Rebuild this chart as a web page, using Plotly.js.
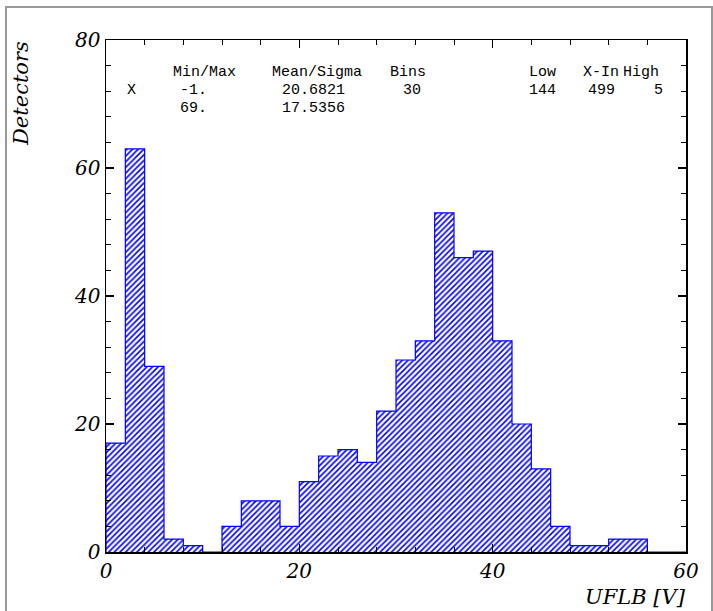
<!DOCTYPE html>
<html>
<head>
<meta charset="utf-8">
<script src="https://cdn.plot.ly/plotly-3.0.1.min.js"></script>
<style>html,body{margin:0;padding:0;background:#fff;}#chart{width:713px;height:611px;}</style>
</head>
<body>
<div id="chart"></div>
<script>
// ---- data ----
const binCenters = [1,3,5,7,9,11,13,15,17,19,21,23,25,27,29,31,33,35,37,39,41,43,45,47,49,51,53,55,57,59];
const counts     = [17,63,29,2,1,0,4,8,8,4,11,15,16,14,22,30,33,53,46,47,33,20,13,4,1,1,2,2,0,0];
const binWidth = 2;
const statHeaders = ["Min/Max", "Mean/Sigma", "Bins", "Low", "X-In", "High"];
const statRow1 = ["X", "-1.", "20.6821", "30", "144", "499", "5"];
const statRow2 = ["69.", "17.5356"];
const xTitle = "UFLB [V]";
const yTitle = "Detectors";

// ---- geometry helpers (pixel -> paper) ----
const W = 713, H = 611, ML = 106, MR = 27, MT = 40, MB = 59;
const PW = W - ML - MR, PH = H - MT - MB;
const px = x => (x - ML) / PW;
const py = y => (H - MB - y) / PH;

// step outline built from the histogram arrays
const stepX = [binCenters[0] - binWidth/2], stepY = [0];
binCenters.forEach((c, i) => { stepX.push(c - binWidth/2); stepY.push(counts[i]); });
stepX.push(binCenters[binCenters.length-1] + binWidth/2); stepY.push(counts[counts.length-1]);

const blue = '#0000ff';
const traces = [
  {type:'bar', x: binCenters, y: counts, width: binWidth,
   marker:{color:'rgba(0,0,0,0)', line:{width:0},
           pattern:{shape:'/', fgcolor: blue, bgcolor:'#ffffff', size:4, solidity:0.4, fillmode:'replace'}},
   hoverinfo:'skip'},
  {type:'scatter', mode:'lines', x: stepX, y: stepY, line:{shape:'hv', color: blue, width:1.2}, hoverinfo:'skip'}
];

const mono = {family:'Liberation Mono, monospace', size:15, color:'#000'};
const ann = [];
function txt(t, xl, yc){ ann.push({text:t, xref:'paper', yref:'paper', x:px(xl), y:py(yc), xanchor:'left', yanchor:'middle', showarrow:false, font:mono}); }
const hdrX = [171, 270, 388, 527, 581, 621];
statHeaders.forEach((t,i)=>txt(t, hdrX[i], 72));
const r1X = [125, 178, 280, 401, 527, 586, 652];
statRow1.forEach((t,i)=>txt(t, r1X[i], 90));
const r2X = [178, 280];
statRow2.forEach((t,i)=>txt(t, r2X[i], 108));

const titleFont = {family:'DejaVu Serif, serif', size:21, color:'#000', style:'italic'};
ann.push({text:yTitle, xref:'paper', yref:'paper', x:px(21), y:py(94), xanchor:'center', yanchor:'middle', textangle:-90, showarrow:false, font:titleFont});
ann.push({text:xTitle, xref:'paper', yref:'paper', x:px(688), y:py(597), xanchor:'right', yanchor:'middle', showarrow:false, font:titleFont});

const axisCommon = {
  showgrid:false, zeroline:false, showline:true, linecolor:'#000', linewidth:1.5,
  mirror:'ticks', ticks:'inside', ticklen:8, tickwidth:1.5, tickcolor:'#000',
  dtick:20, tick0:0,
  minor:{dtick:4, ticks:'inside', ticklen:5, tickwidth:1, tickcolor:'#000'},
  tickfont:{family:'DejaVu Serif, serif', size:20, color:'#000', style:'italic'}
};

const layout = {
  width: W, height: H,
  margin:{l:ML, r:MR, t:MT, b:MB, pad:0},
  paper_bgcolor:'#fff', plot_bgcolor:'#fff',
  showlegend:false, bargap:0,
  xaxis: Object.assign({}, axisCommon, {range:[0,60]}),
  yaxis: Object.assign({}, axisCommon, {range:[0,80]}),
  annotations: ann,
  shapes:[{type:'rect', xref:'paper', yref:'paper', x0:px(6), x1:px(712), y0:py(620), y1:py(7),
           line:{color:'#999', width:2}, fillcolor:'rgba(0,0,0,0)', layer:'below'}]
};

Plotly.newPlot('chart', traces, layout, {staticPlot:true, displayModeBar:false});
</script>
</body>
</html>
